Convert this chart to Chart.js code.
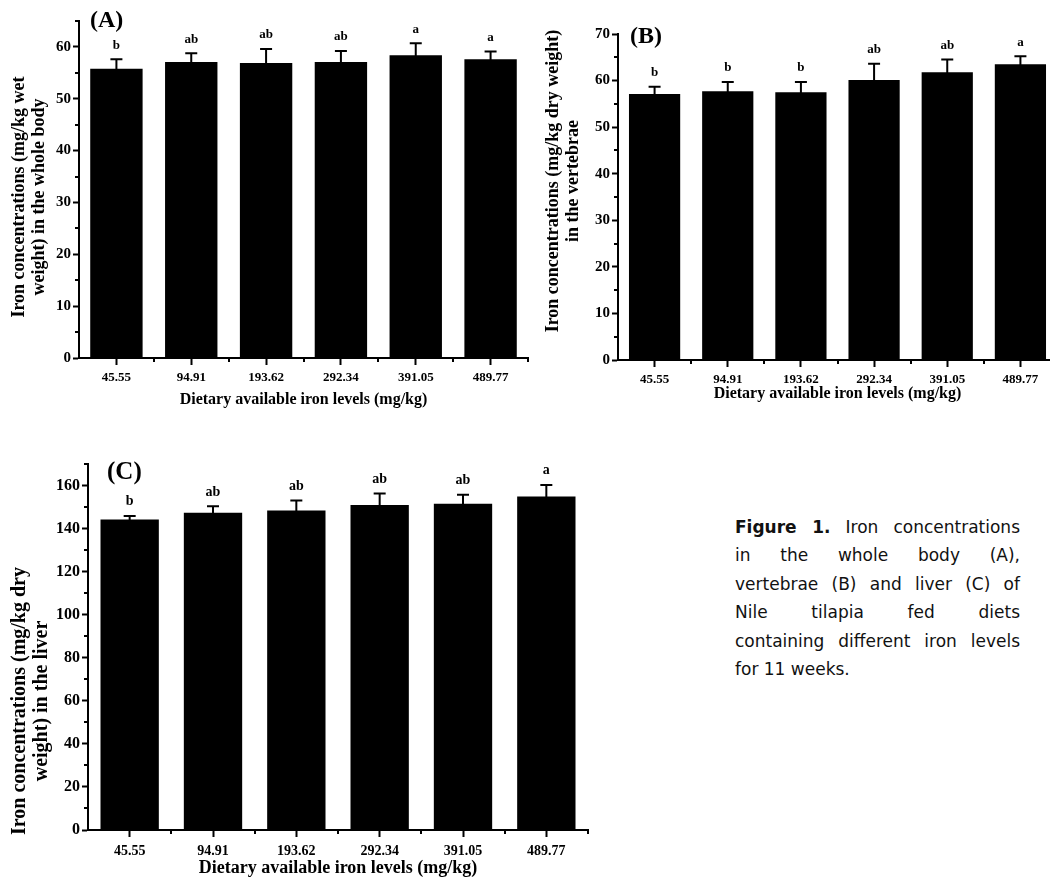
<!DOCTYPE html>
<html>
<head>
<meta charset="utf-8">
<script src="https://cdn.jsdelivr.net/npm/chart.js@4.4.0/dist/chart.umd.min.js"></script>
<style>
  html, body { margin: 0; padding: 0; background: #fff; width: 1050px; height: 886px; overflow: hidden; }
  .panel { position: absolute; }
  #caption {
    position: absolute; left: 735px; top: 513px; width: 285px;
    font-family: 'DejaVu Sans', sans-serif; font-size: 17px; line-height: 28.4px; color: #111;
  }
  #caption .j { text-align: justify; text-align-last: justify; }
</style>
</head>
<body>
<canvas id="chartA" class="panel" style="left:0px;top:0px;width:540px;height:420px" width="540" height="420"></canvas>
<canvas id="chartB" class="panel" style="left:530px;top:0px;width:540px;height:420px" width="540" height="420"></canvas>
<canvas id="chartC" class="panel" style="left:0px;top:430px;width:600px;height:456px" width="600" height="456"></canvas>
<div id="caption">
  <div class="j"><b>Figure 1.</b> Iron concentrations</div>
  <div class="j">in the whole body (A),</div>
  <div class="j">vertebrae (B) and liver (C) of</div>
  <div class="j">Nile tilapia fed diets</div>
  <div class="j">containing different iron levels</div>
  <div>for 11 weeks.</div>
</div>
<script>
const levels = ['45.55', '94.91', '193.62', '292.34', '391.05', '489.77'];

// (A) whole body
const bodyMeans = [55.8, 57.1, 56.9, 57.1, 58.4, 57.6];
const bodySd = [1.8, 1.7, 2.7, 2.1, 2.3, 1.5];
const bodyLetters = ['b', 'ab', 'ab', 'ab', 'a', 'a'];

// (B) vertebrae
const vertMeans = [57.1, 57.7, 57.5, 60.1, 61.8, 63.5];
const vertSd = [1.6, 2.0, 2.2, 3.5, 2.7, 1.7];
const vertLetters = ['b', 'b', 'b', 'ab', 'ab', 'a'];

// (C) liver
const liverMeans = [144.2, 147.3, 148.4, 150.9, 151.5, 154.9];
const liverSd = [1.7, 3.1, 4.6, 5.4, 4.2, 5.4];
const liverLetters = ['b', 'ab', 'ab', 'ab', 'ab', 'a'];

const serif = '"Liberation Serif", "Times New Roman", serif';

// error bars, letters, minor ticks, titles
const panelExtras = {
    id: 'panelExtras',
    afterDatasetsDraw(chart, args, opts) {
        const ctx = chart.ctx;
        const y = chart.scales.y;
        const values = chart.data.datasets[0].data;
        const meta = chart.getDatasetMeta(0);
        ctx.save();
        ctx.strokeStyle = '#000';
        ctx.fillStyle = '#000';
        ctx.lineWidth = 2;
        ctx.font = 'bold ' + opts.letterSize + 'px ' + serif;
        ctx.textAlign = 'center';
        ctx.textBaseline = 'middle';
        meta.data.forEach((bar, i) => {
            const top = y.getPixelForValue(values[i] + opts.sd[i]);
            ctx.beginPath();
            ctx.moveTo(bar.x, bar.y + 1);
            ctx.lineTo(bar.x, top);
            ctx.moveTo(bar.x - 6, top);
            ctx.lineTo(bar.x + 6, top);
            ctx.stroke();
            ctx.fillText(opts.letters[i], bar.x, top - 14);
        });
        ctx.restore();
    },
    afterDraw(chart, args, opts) {
        const ctx = chart.ctx;
        const x = chart.scales.x;
        const y = chart.scales.y;
        const area = chart.chartArea;
        ctx.save();
        ctx.strokeStyle = '#000';
        ctx.fillStyle = '#000';
        ctx.lineWidth = 2;

        // minor ticks on y
        const step = y.options.ticks.stepSize;
        ctx.beginPath();
        for (let v = step / 2; v <= y.max + 0.001; v += step) {
            const py = Math.round(y.getPixelForValue(v));
            ctx.moveTo(area.left, py);
            ctx.lineTo(area.left - 4, py);
        }
        // minor ticks on x, between the groups
        const n = chart.data.labels.length;
        for (let i = 0; i < n; i++) {
            const px = i < n - 1 ? (x.getPixelForValue(i) + x.getPixelForValue(i + 1)) / 2 : area.right;
            ctx.moveTo(Math.round(px), area.bottom);
            ctx.lineTo(Math.round(px), area.bottom + 4);
        }
        ctx.stroke();

        // x title
        ctx.textAlign = 'center';
        ctx.textBaseline = 'middle';
        ctx.font = 'bold ' + opts.xTitleSize + 'px ' + serif;
        ctx.fillText(opts.xTitle, (area.left + area.right) / 2, area.bottom + opts.xTitleGap);

        // y title, two lines
        ctx.save();
        ctx.font = 'bold ' + opts.yTitleSize + 'px ' + serif;
        ctx.translate(opts.yTitleX, opts.yTitleY);
        ctx.rotate(-Math.PI / 2);
        opts.yTitle.forEach((line, k) => {
            ctx.fillText(line, 0, k * opts.yTitleLine);
        });
        ctx.restore();

        // panel label
        ctx.textAlign = 'left';
        ctx.font = 'bold ' + opts.labelSize + 'px ' + serif;
        ctx.fillText(opts.label, area.left + opts.labelDx, area.top + opts.labelDy);
        ctx.restore();
    }
};

function fixWidth(w) {
    return function (scale) { scale.width = w; };
}
function fixHeight(h) {
    return function (scale) { scale.height = h; };
}

function makePanel(id, means, p) {
    const ctx = document.getElementById(id);
    return new Chart(ctx, {
        type: 'bar',
        data: {
            labels: levels,
            datasets: [{
                data: means,
                backgroundColor: '#000',
                borderWidth: 0,
                barPercentage: 0.7,
                categoryPercentage: 1
            }]
        },
        plugins: [panelExtras],
        options: {
            responsive: false,
            animation: false,
            layout: {
                padding: { top: p.padTop, right: p.padRight, left: 0, bottom: 0 }
            },
            plugins: {
                legend: { display: false },
                tooltip: { enabled: false },
                panelExtras: p.extras
            },
            scales: {
                x: {
                    afterFit: fixHeight(p.xHeight),
                    grid: {
                        offset: false,
                        drawOnChartArea: false,
                        color: '#000',
                        tickLength: 7,
                        tickWidth: 2
                    },
                    border: { display: true, color: '#000', width: 2 },
                    ticks: {
                        color: '#000',
                        padding: p.xTickPad,
                        font: { family: serif, weight: 'bold', size: p.xTickSize }
                    }
                },
                y: {
                    min: 0,
                    max: p.yMax,
                    afterFit: fixWidth(p.yWidth),
                    grid: {
                        drawOnChartArea: false,
                        color: '#000',
                        tickLength: 6,
                        tickWidth: 2
                    },
                    border: { display: true, color: '#000', width: 2 },
                    ticks: {
                        stepSize: p.yStep,
                        includeBounds: false,
                        color: '#000',
                        padding: 2,
                        font: { family: serif, weight: 'bold', size: p.yTickSize }
                    }
                }
            }
        }
    });
}

const xTitle = 'Dietary available iron levels (mg/kg)';

makePanel('chartA', bodyMeans, {
    padTop: 21, padRight: 12, xHeight: 62, yWidth: 79, yMax: 65, yStep: 10,
    xTickPad: 5, xTickSize: 13, yTickSize: 15,
    extras: {
        sd: bodySd, letters: bodyLetters, letterSize: 13,
        xTitle: xTitle, xTitleSize: 16, xTitleGap: 42,
        yTitle: ['Iron concentrations (mg/kg wet', 'weight) in the whole body'],
        yTitleSize: 18, yTitleX: 19, yTitleY: 197, yTitleLine: 20,
        label: '(A)', labelSize: 24, labelDx: 11, labelDy: 0
    }
});

makePanel('chartB', vertMeans, {
    padTop: 34, padRight: 13, xHeight: 60, yWidth: 88, yMax: 70, yStep: 10,
    xTickPad: 5, xTickSize: 13, yTickSize: 15,
    extras: {
        sd: vertSd, letters: vertLetters, letterSize: 13,
        xTitle: xTitle, xTitleSize: 16, xTitleGap: 34,
        yTitle: ['Iron concentrations (mg/kg dry weight)', 'in the vertebrae'],
        yTitleSize: 18, yTitleX: 23, yTitleY: 181, yTitleLine: 20,
        label: '(B)', labelSize: 24, labelDx: 12, labelDy: 3
    }
});

makePanel('chartC', liverMeans, {
    padTop: 34, padRight: 12, xHeight: 56, yWidth: 88, yMax: 170, yStep: 20,
    xTickPad: 6, xTickSize: 14, yTickSize: 16,
    extras: {
        sd: liverSd, letters: liverLetters, letterSize: 14,
        xTitle: xTitle, xTitleSize: 18, xTitleGap: 38,
        yTitle: ['Iron concentrations (mg/kg dry', 'weight) in the liver'],
        yTitleSize: 20, yTitleX: 20, yTitleY: 271, yTitleLine: 22,
        label: '(C)', labelSize: 25, labelDx: 19, labelDy: 9
    }
});
</script>
</body>
</html>
